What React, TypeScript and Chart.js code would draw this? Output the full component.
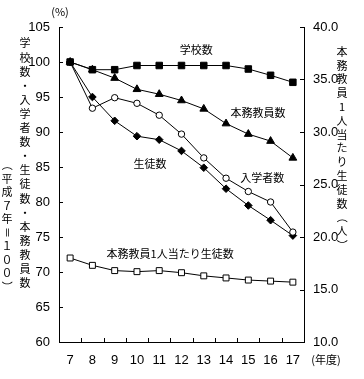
import React, { useEffect, useRef } from 'react';
import { Chart, registerables } from 'chart.js';

Chart.register(...registerables);

// ---- data ----
const years = ['7', '8', '9', '10', '11', '12', '13', '14', '15', '16', '17'];
const schools = [100, 98.9, 98.9, 99.5, 99.5, 99.5, 99.5, 99.5, 99.0, 98.1, 97.1];
const teachers = [100, 98.9, 97.7, 96.1, 95.4, 94.5, 93.3, 91.2, 89.7, 88.7, 86.3];
const entrants = [100, 93.4, 94.9, 94.1, 92.4, 89.7, 86.3, 83.4, 81.5, 80.0, 75.7];
const students = [100, 95.0, 91.6, 89.4, 88.9, 87.3, 84.9, 81.9, 79.5, 77.4, 75.2];
const studentsPerTeacher = [18.0, 17.3, 16.8, 16.7, 16.8, 16.6, 16.3, 16.1, 15.9, 15.8, 15.7];

const seriesNames = ['学校数', '本務教員数', '入学者数', '生徒数', '本務教員1人当たり生徒数'];
// label anchors in data coordinates (category index, value, axis)
const labelX = [5.66, 8.44, 8.62, 3.59, 4.49];
const labelY = [101.7, 92.7, 83.5, 85.5, 18.4];
const labelAxis = ['y', 'y', 'y', 'y', 'y1'];

const leftTitle = '学校数・入学者数・生徒数・本務教員数';
const leftSubTitle = '（平成７年＝１００）';
const rightTitle = '本務教員1人当たり生徒数（人）';
const unitLeft = '(%)';
const unitX = '(年度)';

const JP = '"Noto Sans CJK JP", "Noto Sans", sans-serif';
const NUM = '"Liberation Sans Narrow", "Liberation Sans", Arial, sans-serif';

function drawVertical(ctx: CanvasRenderingContext2D, text: string, x: number, y0: number, step: number) {
  const chars = Array.from(text);
  chars.forEach((ch, i) => {
    const y = y0 + i * step;
    if ('（）＝()='.includes(ch)) {
      ctx.save();
      ctx.translate(x, y);
      ctx.rotate(Math.PI / 2);
      ctx.fillText(ch, 0, 0);
      ctx.restore();
    } else {
      ctx.fillText(ch, x, y);
    }
  });
}

const decor = {
  id: 'decor',
  afterDraw(chart: any) {
    const ctx: CanvasRenderingContext2D = chart.ctx;
    const { left, right, bottom } = chart.chartArea;
    const ys = chart.scales.y;
    const y1 = chart.scales.y1;
    const n = years.length;
    ctx.save();
    ctx.strokeStyle = '#000';
    ctx.lineWidth = 1;
    ctx.beginPath();
    ys.ticks.forEach((t: any) => {
      const p = Math.round(ys.getPixelForValue(t.value)) + 0.5;
      ctx.moveTo(left, p);
      ctx.lineTo(left + 4, p);
    });
    y1.ticks.forEach((t: any) => {
      const p = Math.round(y1.getPixelForValue(t.value)) + 0.5;
      ctx.moveTo(right, p);
      ctx.lineTo(right - 4, p);
    });
    const w = (right - left) / n;
    for (let k = 1; k < n; k++) {
      const p = Math.round(left + k * w) + 0.5;
      ctx.moveTo(p, bottom);
      ctx.lineTo(p, bottom - 4);
    }
    ctx.stroke();

    ctx.fillStyle = '#000';
    ctx.textAlign = 'center';
    ctx.textBaseline = 'middle';
    ctx.font = `11px ${JP}`;
    const xs = chart.scales.x;
    seriesNames.forEach((name, i) => {
      const px = xs.getPixelForValue(0) + labelX[i] * (xs.getPixelForValue(1) - xs.getPixelForValue(0));
      const py = chart.scales[labelAxis[i]].getPixelForValue(labelY[i]);
      ctx.fillText(name, px, py);
    });

    // axis titles
    drawVertical(ctx, leftTitle, 25, 43.3, 14.1);
    drawVertical(ctx, leftSubTitle, 7, 165, 13.5);
    drawVertical(ctx, rightTitle, 342, 51.7, 13.8);
    ctx.font = `11px ${JP}`;
    ctx.fillText(unitLeft, 60, 12);
    ctx.fillText(unitX, 326, 360);
    ctx.restore();
  },
};

export default function App() {
  const ref = useRef<HTMLCanvasElement>(null);
  useEffect(() => {
    if (!ref.current) return;
    const line = { borderColor: '#000', borderWidth: 1, pointBorderColor: '#000', pointBorderWidth: 1 };
    const chart = new Chart(ref.current, {
      type: 'line',
      data: {
        labels: years,
        datasets: [
          { ...line, label: seriesNames[0], data: schools, yAxisID: 'y', pointStyle: 'rect', pointRadius: 4.6, pointBackgroundColor: '#000' },
          { ...line, label: seriesNames[1], data: teachers, yAxisID: 'y', pointStyle: 'triangle', pointRadius: 4.5, pointBackgroundColor: '#000' },
          { ...line, label: seriesNames[2], data: entrants, yAxisID: 'y', pointStyle: 'circle', pointRadius: 3.2, pointBackgroundColor: '#fff' },
          { ...line, label: seriesNames[3], data: students, yAxisID: 'y', pointStyle: 'rectRot', pointRadius: 3.8, pointBackgroundColor: '#000' },
          { ...line, label: seriesNames[4], data: studentsPerTeacher, yAxisID: 'y1', pointStyle: 'rect', pointRadius: 4.2, pointBackgroundColor: '#fff' },
        ],
      },
      options: {
        animation: false,
        responsive: false,
        devicePixelRatio: 1,
        layout: { padding: { top: 27, left: 0, right: 0, bottom: 0 } },
        plugins: { legend: { display: false }, tooltip: { enabled: false } },
        scales: {
          x: {
            type: 'category',
            offset: true,
            grid: { display: false, drawTicks: false },
            border: { display: true, color: '#000', width: 1 },
            ticks: { color: '#000', padding: 11, font: { family: NUM, size: 13 }, maxRotation: 0, autoSkip: false },
            afterFit: (s: any) => { s.height = 37; },
          },
          y: {
            position: 'left',
            min: 60,
            max: 105,
            grid: { display: false, drawTicks: false },
            border: { display: true, color: '#000', width: 1 },
            ticks: { stepSize: 5, color: '#000', padding: 9, font: { family: NUM, size: 13 } },
            afterFit: (s: any) => { s.width = 59; },
          },
          y1: {
            position: 'right',
            min: 10,
            max: 40,
            grid: { display: false, drawTicks: false },
            border: { display: true, color: '#000', width: 1 },
            ticks: { stepSize: 5, color: '#000', padding: 9, font: { family: NUM, size: 13 }, callback: (v: any) => Number(v).toFixed(1) },
            afterFit: (s: any) => { s.width = 60; },
          },
        },
      },
      plugins: [decor],
    });
    return () => chart.destroy();
  }, []);
  return (
    <div style={{ position: 'absolute', left: 0, top: 0, width: 364, height: 379, background: '#fff' }}>
      <canvas ref={ref} width={364} height={379} style={{ width: 364, height: 379 }} />
    </div>
  );
}
